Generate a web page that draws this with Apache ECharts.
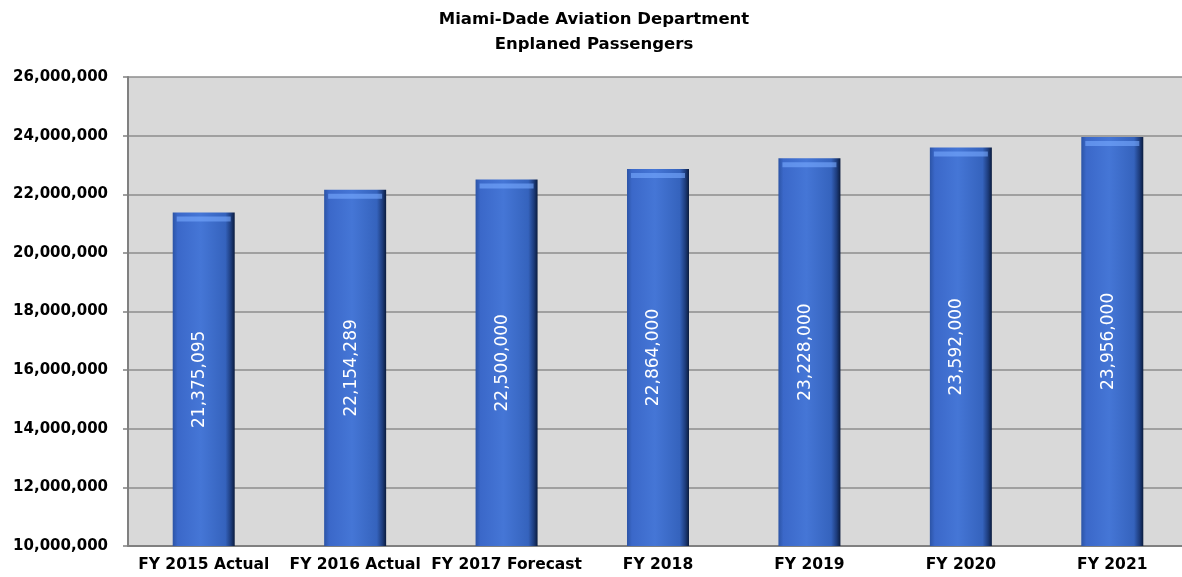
<!DOCTYPE html>
<html>
<head>
<meta charset="utf-8">
<script src="https://cdn.jsdelivr.net/npm/echarts@6/dist/echarts.min.js"></script>
<style>
  html, body { margin: 0; padding: 0; background: #fff; overflow: hidden; }
  #chart { width: 1188px; height: 577px; }
</style>
</head>
<body>
<div id="chart"></div>
<script>
// data
const categories = ['FY 2015 Actual', 'FY 2016 Actual', 'FY 2017 Forecast', 'FY 2018', 'FY 2019', 'FY 2020', 'FY 2021'];
const passengers = [21375095, 22154289, 22500000, 22864000, 23228000, 23592000, 23956000];
const yMin = 10000000;
const yMax = 26000000;
const yStep = 2000000;

const fmt = v => v.toLocaleString('en-US');
const font = '"DejaVu Sans", Verdana, sans-serif';

const chart = echarts.init(document.getElementById('chart'));

const option = {
    animation: false,
    title: {
        text: 'Miami-Dade Aviation Department\nEnplaned Passengers',
        left: 'center',
        top: 2,
        textStyle: {
            fontFamily: font,
            fontSize: 16.5,
            fontWeight: 'bold',
            color: '#000',
            lineHeight: 25
        }
    },
    grid: {
        left: 128,
        right: 0,
        top: 77,
        bottom: 31,
        show: true,
        backgroundColor: '#d9d9d9',
        borderWidth: 0
    },
    xAxis: {
        type: 'category',
        data: categories,
        axisLine: { lineStyle: { color: '#808080', width: 2 } },
        axisTick: { show: false },
        axisLabel: {
            fontFamily: font,
            fontSize: 15.5,
            fontWeight: 'bold',
            color: '#000',
            margin: 11,
            interval: 0
        }
    },
    yAxis: {
        type: 'value',
        min: yMin,
        max: yMax,
        interval: yStep,
        axisLine: { show: true, lineStyle: { color: '#808080', width: 2 } },
        axisTick: { show: true, length: 5, lineStyle: { color: '#808080', width: 1.5 } },
        splitLine: { lineStyle: { color: '#8c8c8c', width: 1.5 } },
        axisLabel: {
            formatter: v => fmt(v),
            fontFamily: font,
            fontSize: 15,
            fontWeight: 'bold',
            color: '#000',
            margin: 20
        }
    },
    series: [{
        name: 'Enplaned Passengers',
        type: 'bar',
        data: passengers,
        barWidth: 62,
        itemStyle: {
            color: new echarts.graphic.LinearGradient(0, 0, 1, 0, [
                { offset: 0, color: '#2c54a6' },
                { offset: 0.08, color: '#3b68c9' },
                { offset: 0.45, color: '#4576d6' },
                { offset: 0.85, color: '#3563bd' },
                { offset: 0.94, color: '#1d3c7c' },
                { offset: 1, color: '#0b1c3e' }
            ])
        },
        label: {
            show: true,
            position: 'inside',
            rotate: 90,
            offset: [0, -4],
            formatter: p => fmt(p.value),
            fontFamily: font,
            fontSize: 17,
            color: '#fff'
        }
    }, {
        // light bevel at the top of each bar
        name: 'cap',
        type: 'pictorialBar',
        data: passengers,
        symbol: 'rect',
        symbolSize: [54, 5],
        symbolPosition: 'end',
        symbolOffset: [0, 4],
        barGap: '-100%',
        z: 3,
        silent: true,
        itemStyle: { color: 'rgba(120, 170, 255, 0.6)' }
    }]
};

chart.setOption(option);
</script>
</body>
</html>
